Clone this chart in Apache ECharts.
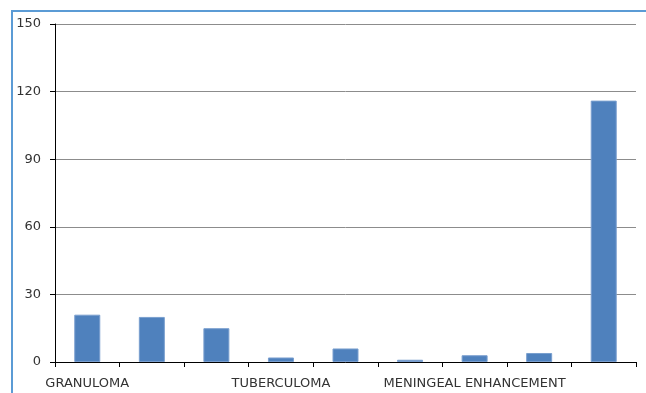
<!DOCTYPE html>
<html>
<head>
<meta charset="utf-8">
<script src="https://cdn.jsdelivr.net/npm/echarts@6/dist/echarts.min.js"></script>
<style>
  html, body { margin: 0; padding: 0; background: #fff; }
  #chartmain { width: 646px; height: 393px; }
</style>
</head>
<body>
<div id="chartmain"></div>
<script>
// only every third category name is printed on the axis
const categories = ['GRANULOMA', '', '', 'TUBERCULOMA', '', '', 'MENINGEAL ENHANCEMENT', '', ''];
const counts = [21, 20, 15, 2, 6, 1, 3, 4, 116];
const yTicks = { min: 0, max: 150, step: 30 };

const chart = echarts.init(document.getElementById('chartmain'));

chart.setOption({
  animation: false,
  grid: { left: 55, right: 10, top: 24, bottom: 31 },
  graphic: [{
    // blue frame on the left and top edges
    type: 'polyline',
    shape: { points: [[12, 393], [12, 11], [646, 11]] },
    style: { stroke: '#5b9bd5', lineWidth: 2, fill: null }
  }],
  xAxis: {
    type: 'category',
    data: categories,
    axisLine: { lineStyle: { color: '#000', width: 1 } },
    axisTick: { show: true, interval: 0, length: 5, lineStyle: { color: '#000' } },
    axisLabel: {
      interval: 2,
      margin: 15,
      color: '#333',
      fontFamily: 'DejaVu Sans',
      fontSize: 13
    }
  },
  yAxis: {
    type: 'value',
    min: yTicks.min,
    max: yTicks.max,
    interval: yTicks.step,
    axisLine: { show: true, lineStyle: { color: '#000', width: 1 } },
    axisTick: { show: true, length: 5, lineStyle: { color: '#000' } },
    axisLabel: {
      margin: 14,
      color: '#333',
      fontFamily: 'DejaVu Sans',
      fontSize: 13
    },
    splitLine: { lineStyle: { color: '#8c8c8c', width: 1 } }
  },
  series: [{
    type: 'bar',
    data: counts,
    barWidth: 26,
    itemStyle: { color: '#4f81bd', borderColor: '#7a9fcf', borderWidth: 1 }
  }]
});
</script>
</body>
</html>
